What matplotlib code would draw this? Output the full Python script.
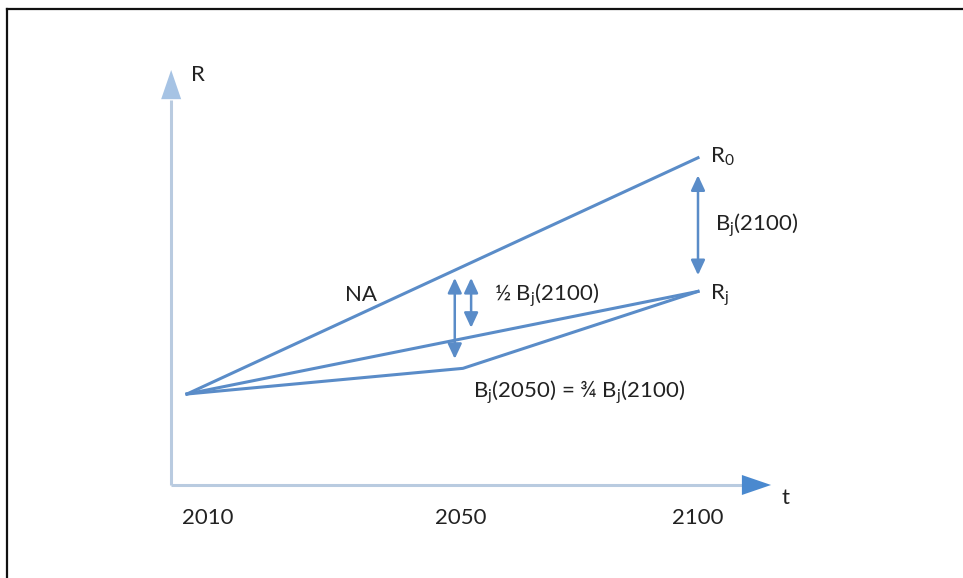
import matplotlib
matplotlib.use("Agg")
import matplotlib.pyplot as plt
from matplotlib.lines import Line2D

plt.rcParams['font.family'] = ['Lato', 'DejaVu Sans']
plt.rcParams['mathtext.fontset'] = 'custom'
plt.rcParams['mathtext.rm'] = 'Lato'
plt.rcParams['mathtext.it'] = 'Lato'

# schematic data: t runs 0 (2010) .. 1 (2100), R in units of B_j(2100)
t_line = [0, 1]
r0_line = [0, 1.75]
rj_line = [0, 0.76]
t_path = [0, 0.54, 1]
rj_path = [0, 0.19, 0.76]

# double arrows (t, top, bottom)
arrow_t = [0.524, 0.556, 1.0]
arrow_top = [0.86, 0.86, 1.62]
arrow_bot = [0.26, 0.49, 0.88]

year_labels = ['2010', '2050', '2100']
year_pos = [0.04, 0.535, 1.0]

# axes of the schematic
axis_t0 = -0.031
axis_r0 = -0.674
x_tip, x_base = 1.143, 1.088
y_tip, y_base = 2.40, 2.178

line_col = '#5a8cc8'
axis_col = '#b9cbe0'
txt_col = '#222222'

fig = plt.figure(figsize=(9.63, 5.78), dpi=100)
ax = fig.add_axes([0, 0, 1, 1])
ax.set_xlim(-187 / 511, (963 - 187) / 511)
ax.set_ylim((394 - 578) / 135, 394 / 135)
ax.axis('off')

# axes lines + heads
ax.plot([axis_t0, x_base], [axis_r0, axis_r0], color=axis_col, lw=2.2, solid_capstyle='butt')
ax.plot([axis_t0, axis_t0], [axis_r0, y_base], color=axis_col, lw=2.2, solid_capstyle='butt')
head = '-|>,head_length=2.1,head_width=0.72'
ax.annotate('', xy=(x_tip, axis_r0), xytext=(x_base, axis_r0),
            arrowprops=dict(arrowstyle=head, mutation_scale=10, color='#4a89cf', lw=0,
                            shrinkA=0, shrinkB=0))
ax.annotate('', xy=(axis_t0, y_tip), xytext=(axis_t0, y_base),
            arrowprops=dict(arrowstyle=head, mutation_scale=10, color='#a6c3e4', lw=0,
                            shrinkA=0, shrinkB=0))

# scenario lines
ax.plot(t_line, r0_line, color=line_col, lw=2.2)
ax.plot(t_line, rj_line, color=line_col, lw=2.2)
ax.plot(t_path, rj_path, color=line_col, lw=2.2)

for t, top, bot in zip(arrow_t, arrow_top, arrow_bot):
    ax.annotate('', xy=(t, top), xytext=(t, bot),
                arrowprops=dict(arrowstyle='<|-|>,head_length=0.9,head_width=0.42',
                                mutation_scale=10, color=line_col, lw=1.8,
                                shrinkA=0, shrinkB=0))

fs = 16
ax.text(0.008, 2.363, 'R', fontsize=fs, color=txt_col, ha='left', va='center')
ax.text(1.172, -0.77, 't', fontsize=fs, color=txt_col, ha='center', va='center')
for lab, p in zip(year_labels, year_pos):
    ax.text(p, -0.92, lab, fontsize=fs, color=txt_col, ha='center', va='center')

ax.text(1.023, 1.756, r'R$_0$', fontsize=fs, color=txt_col, ha='left', va='center')
ax.text(1.023, 0.733, r'R$_\mathregular{j}$', fontsize=fs, color=txt_col, ha='left', va='center')
ax.text(1.033, 1.252, r'B$_\mathregular{j}$(2100)', fontsize=fs, color=txt_col, ha='left', va='center')
ax.text(0.34, 0.733, 'NA', fontsize=fs, color=txt_col, ha='center', va='center')
ax.text(0.60, 0.733, r'½ B$_\mathregular{j}$(2100)', fontsize=fs, color=txt_col, ha='left', va='center')
ax.text(0.56, 0.01, r'B$_\mathregular{j}$(2050) = ¾ B$_\mathregular{j}$(2100)', fontsize=fs,
        color=txt_col, ha='left', va='center')

# frame lines of the original image (top and left only)
fig.add_artist(Line2D([7 / 963, 1], [1 - 9 / 578, 1 - 9 / 578], transform=fig.transFigure,
                      color='#111111', lw=1.6))
fig.add_artist(Line2D([7 / 963, 7 / 963], [0, 1 - 9 / 578], transform=fig.transFigure,
                      color='#111111', lw=1.6))

fig.savefig('out.png', dpi=100, facecolor='white')
